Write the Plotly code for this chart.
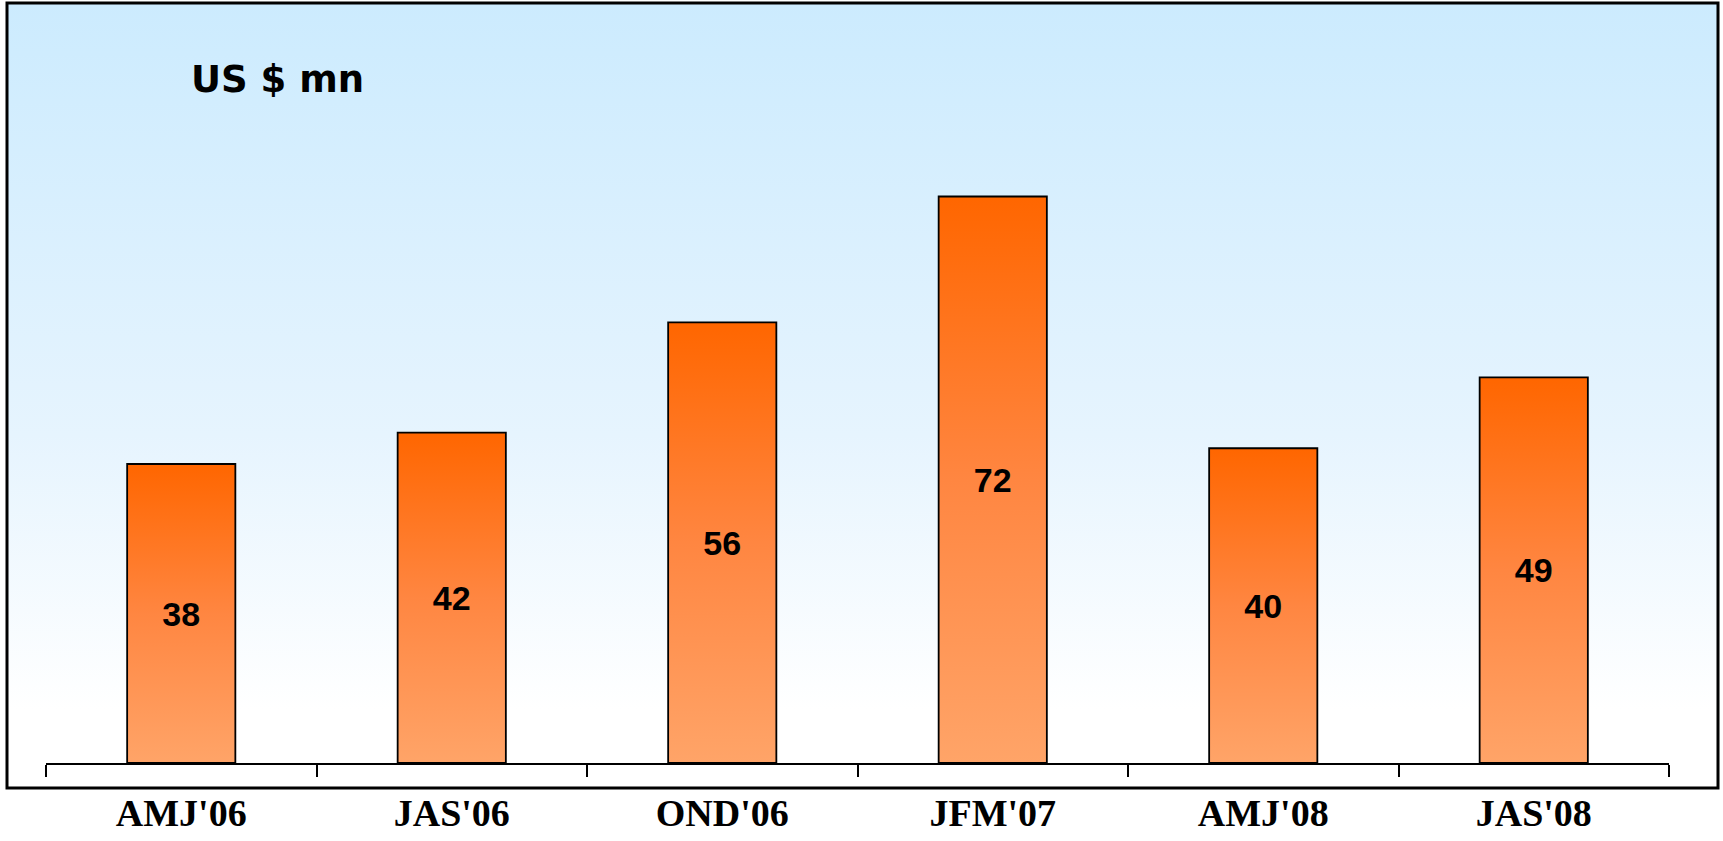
import base64
import plotly.graph_objects as go

# Quarterly figures, US $ mn
quarters = ["AMJ'06", "JAS'06", "OND'06", "JFM'07", "AMJ'08", "JAS'08"]
values = [38, 42, 56, 72, 40, 49]

BAR_WIDTH = 0.4
Y_MAX = 95.7

# Plot-area geometry in pixels (figure is 1723 x 841)
W, H = 1723, 841
M_L, M_R, M_T, M_B = 46, 54, 10, 78
PW, PH = W - M_L - M_R, H - M_T - M_B


def px_to_paper_x(px):
    return (px - M_L) / PW


def px_to_paper_y(py):
    return (H - M_B - py) / PH


def gradient_svg(stops):
    """Vertical linear gradient as an SVG data URI (stretchable)."""
    stop_xml = "".join(
        f'<stop offset="{o}" stop-color="{c}"/>' for o, c in stops
    )
    svg = (
        '<svg xmlns="http://www.w3.org/2000/svg" width="100" height="100" '
        'viewBox="0 0 1 1" preserveAspectRatio="none">'
        '<defs><linearGradient id="g" x1="0" y1="0" x2="0" y2="1">'
        f"{stop_xml}</linearGradient></defs>"
        '<rect x="0" y="0" width="1" height="1" fill="url(#g)"/></svg>'
    )
    return "data:image/svg+xml;base64," + base64.b64encode(svg.encode()).decode()


panel_src = gradient_svg([(0, "#CCEBFE"), (0.55, "#E6F4FE"), (0.9, "#FFFFFF"), (1, "#FFFFFF")])
bar_src = gradient_svg([(0, "#FF6600"), (0.5, "#FF8641"), (1, "#FFA468")])

fig = go.Figure()

fig.add_trace(
    go.Bar(
        x=quarters,
        y=values,
        width=BAR_WIDTH,
        marker=dict(color="rgba(0,0,0,0)", line=dict(color="black", width=1.8)),
        text=[str(v) for v in values],
        textposition="inside",
        insidetextanchor="middle",
        textangle=0,
        textfont=dict(family="Liberation Sans, Arial, sans-serif", size=34,
                      color="black", weight="bold"),
        hoverinfo="skip",
    )
)

# Panel background and outline
panel_x0, panel_x1 = px_to_paper_x(7), px_to_paper_x(1718)
panel_y0, panel_y1 = px_to_paper_y(788), px_to_paper_y(3)

images = [
    dict(
        source=panel_src, xref="paper", yref="paper",
        x=panel_x0, y=panel_y1, sizex=panel_x1 - panel_x0, sizey=panel_y1 - panel_y0,
        xanchor="left", yanchor="top", sizing="stretch", layer="below",
    )
]
# Gradient fill for each bar, sized from its value
for i, v in enumerate(values):
    images.append(
        dict(
            source=bar_src, xref="x", yref="y",
            x=i - BAR_WIDTH / 2, y=v, sizex=BAR_WIDTH, sizey=v,
            xanchor="left", yanchor="top", sizing="stretch", layer="below",
        )
    )

fig.update_layout(
    width=W,
    height=H,
    margin=dict(l=M_L, r=M_R, t=M_T, b=M_B, pad=0, autoexpand=False),
    paper_bgcolor="white",
    plot_bgcolor="rgba(0,0,0,0)",
    showlegend=False,
    images=images,
    shapes=[
        dict(
            type="rect", xref="paper", yref="paper",
            x0=panel_x0, x1=panel_x1, y0=panel_y0, y1=panel_y1,
            line=dict(color="black", width=3), fillcolor="rgba(0,0,0,0)",
            layer="above",
        )
    ],
    annotations=[
        dict(
            text="US $ mn", xref="paper", yref="paper",
            x=px_to_paper_x(189), y=px_to_paper_y(79),
            xanchor="left", yanchor="middle", showarrow=False,
            font=dict(family="DejaVu Sans, Verdana, sans-serif", size=37,
                      color="black", weight="bold"),
        )
    ],
    xaxis=dict(
        type="category",
        automargin=False,
        showline=True, linecolor="black", linewidth=1.5,
        ticks="outside", ticklen=12, tickwidth=1.5, tickcolor="black",
        tickson="boundaries",
        showgrid=False, zeroline=False,
        ticklabelstandoff=16,
        tickfont=dict(family="Liberation Serif, Times New Roman, serif", size=38,
                      color="black", weight="bold"),
        fixedrange=True,
    ),
    yaxis=dict(
        range=[0, Y_MAX], visible=False, showgrid=False, zeroline=False,
        automargin=False, fixedrange=True,
    ),
)

fig.write_html("out.html", config={"displayModeBar": False})
